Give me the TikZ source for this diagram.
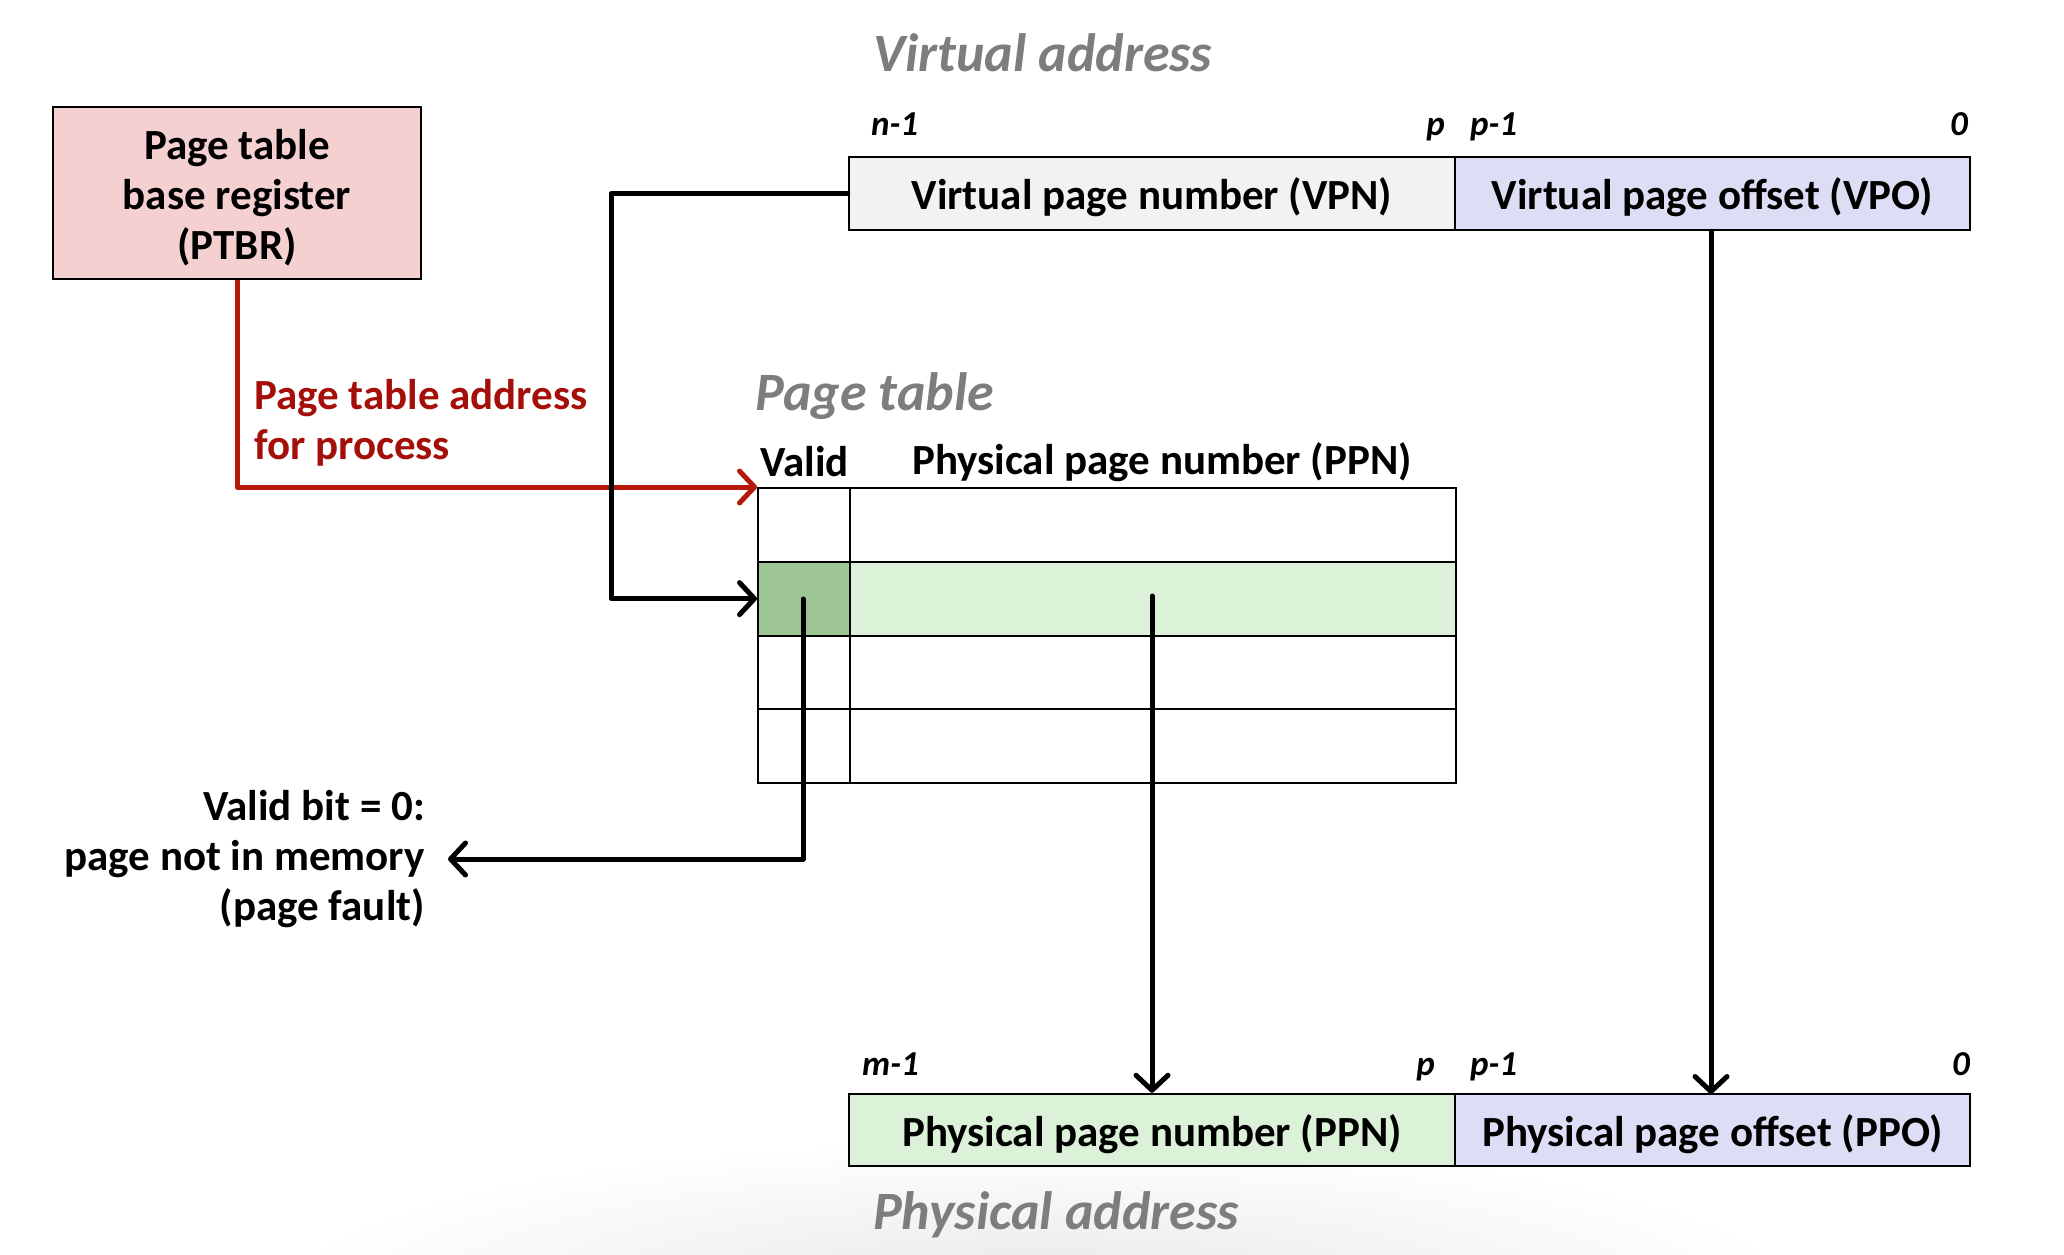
\documentclass[tikz,border=0pt]{standalone}
\usepackage{fontspec}
\setmainfont{Carlito}
\usetikzlibrary{arrows.meta}

\definecolor{ptbrfill}{RGB}{245,208,208}
\definecolor{vpnfill}{RGB}{242,242,242}
\definecolor{offfill}{RGB}{221,221,245}
\definecolor{ppnfill}{RGB}{220,242,216}
\definecolor{validfill}{RGB}{157,197,150}
\definecolor{darkred}{RGB}{165,15,10}
\definecolor{linered}{RGB}{180,25,10}
\definecolor{titlegray}{RGB}{125,125,125}
\definecolor{shadegray}{RGB}{232,232,232}

\tikzset{
  body/.style={font=\fontsize{43}{50}\selectfont\bfseries},
  field/.style={draw, line width=2.5pt, inner sep=0pt, body, text height=32pt, text depth=0pt},
  cell/.style={draw, line width=2pt, inner sep=0pt, minimum height=73.75pt},
  title/.style={font=\fontsize{54}{60}\selectfont\bfseries\itshape, text=titlegray, inner sep=0pt},
  bitlabel/.style={font=\fontsize{35}{40}\selectfont\bfseries\itshape, inner sep=0pt,
    text height=24pt, text depth=4pt},
  link/.style={line width=5pt, line cap=round, line join=round,
    -{Straight Barb[length=15pt,width=32pt,line width=5pt,round]}},
}

\begin{document}
\begin{tikzpicture}[x=1pt,y=-1pt]
\useasboundingbox (0,0) rectangle (2064,1254);

% soft shadow along the bottom edge
\begin{scope}
  \clip (0,0) rectangle (2064,1254);
  \shade[inner color=shadegray, outer color=white]
    (1040,1290) ellipse [x radius=760pt, y radius=150pt];
\end{scope}

% base register
\node[draw, line width=2.5pt, fill=ptbrfill, minimum width=368pt, minimum height=172pt]
  (ptbr) at (237,193) {};
\node[body, align=center, inner sep=0pt] (ptbrtext) at (237,198)
  {Page table\\base register\\(PTBR)};

% virtual address
\node[title, anchor=west] (vatitle) at (873,53) {Virtual address};
\node[field, fill=vpnfill, minimum width=606pt, minimum height=73pt] (vpn) at (1152,193.5) {Virtual page number (VPN)};
\node[field, fill=offfill, minimum width=515pt, minimum height=73pt] (vpo) at (1712.5,193.5) {Virtual page offset (VPO)};
\node[bitlabel, anchor=west] (vn) at (871,125) {n-1};
\node[bitlabel, anchor=east] (vp) at (1445,125) {p};
\node[bitlabel, anchor=west] (vp1) at (1470,125) {p-1};
\node[bitlabel, anchor=east] (v0) at (1968,125) {0};

% page table
\node[title, anchor=west] (pttitle) at (755,396) {Page table};
\node[body, anchor=west, inner sep=0pt] (validhead) at (760,462) {Valid};
\node[body, anchor=west, inner sep=0pt] (ppnhead) at (912,462) {Physical page number (PPN)};
\foreach \i/\vf/\pf in {1/white/white, 2/validfill/ppnfill, 3/white/white, 4/white/white} {
  \node[cell, fill=\vf, minimum width=92pt, anchor=north west] (v\i) at (757,{487+73.75*(\i-1)}) {};
  \node[cell, fill=\pf, minimum width=606pt, anchor=north west] (p\i) at (849,{487+73.75*(\i-1)}) {};
}

% physical address
\node[field, fill=ppnfill, minimum width=606pt, minimum height=72pt] (ppn) at (1152,1130) {Physical page number (PPN)};
\node[field, fill=offfill, minimum width=515pt, minimum height=72pt] (ppo) at (1712.5,1130) {Physical page offset (PPO)};
\node[bitlabel, anchor=west] (pm) at (862,1065) {m-1};
\node[bitlabel, anchor=east] (pp) at (1435,1065) {p};
\node[bitlabel, anchor=west] (pp1) at (1470,1065) {p-1};
\node[bitlabel, anchor=east] (p0) at (1970,1065) {0};
\node[title, anchor=west] (patitle) at (873,1215) {Physical address};

% annotations
\node[body, text=darkred, anchor=west, align=left, inner sep=0pt] (ptaddr) at (254,423)
  {Page table address\\for process};
\node[body, anchor=east, align=right, inner sep=0pt] (fault) at (425,859)
  {Valid bit = 0:\\page not in memory\\(page fault)};

% connectors
\coordinate (vstart) at (803,599);
\coordinate (pstart) at (1152,596);
\draw[link, draw=linered, line cap=butt] (ptbr.south) |- (v1.north west);
\draw[link] (vpn.west) -- (611,193.5) |- (v2.west);
\draw[link] (vstart) |- (fault.east -| 448,0);
\draw[link] (pstart) -- (pstart |- ppn.north);
\draw[link] (vpo.south -| 1711,0) -- (1711,1094);
\end{tikzpicture}
\end{document}
